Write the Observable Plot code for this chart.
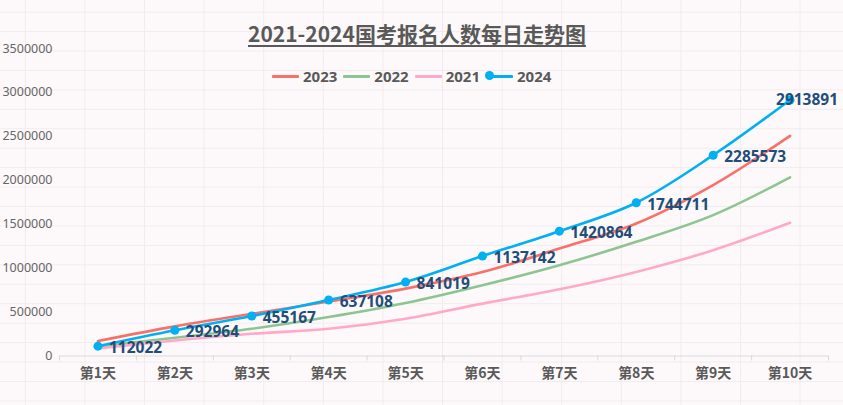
<!DOCTYPE html>
<html>
<head>
<meta charset="utf-8">
<script src="https://cdn.jsdelivr.net/npm/d3@7"></script>
<script src="https://cdn.jsdelivr.net/npm/@observablehq/plot@0.6"></script>
<style>
  html, body { margin: 0; padding: 0; }
  body {
    width: 843px; height: 405px; overflow: hidden;
    background-color: #fdf9fa;
    background-image:
      repeating-linear-gradient(to right, transparent 0, transparent 24.5px, #f1ebed 24.5px, #f1ebed 25.5px, transparent 25.5px, transparent 59.6px),
      repeating-linear-gradient(to bottom, transparent 0, transparent 12px, #f1ebed 12px, #f1ebed 13px, transparent 13px, transparent 19.45px);
    background-size: 59.6px 100%, 100% 19.45px;
    background-position: 0 0, 0 0;
    font-family: "Noto Sans", "Noto Sans CJK SC", sans-serif;
  }
  #wrap { position: relative; width: 843px; height: 405px; }
  #title {
    position: absolute; left: 248px; top: 19px; width: 326px;
    text-align: center; white-space: nowrap;
    font-family: "Noto Sans CJK SC", "Noto Sans", sans-serif;
    font-size: 21px; font-weight: bold; color: #595959;
    text-decoration: underline; text-underline-offset: 3px; line-height: 28px;
  }
  #legend {
    position: absolute; left: 272px; top: 66px; display: flex; align-items: center;
    font-family: "Noto Sans", sans-serif; font-size: 15px; font-weight: bold; color: #595959;
  }
  .item { display: flex; align-items: center; margin-right: 6px; }
  .sw { position: relative; width: 27px; height: 3px; margin-right: 4px; border-radius: 1px; }
  .dot { position: absolute; top: -3.5px; width: 9px; height: 9px; border-radius: 50%; }
  svg { position: absolute; left: 0; top: 0; }
</style>
</head>
<body>
<div id="wrap">
  <div id="title">2021-2024国考报名人数每日走势图</div>
  <div id="legend"></div>
</div>
<script>
const days = ["第1天","第2天","第3天","第4天","第5天","第6天","第7天","第8天","第9天","第10天"];
const seriesNames = ["2023","2022","2021","2024"];
const colors = ["#f7716b","#8cc592","#ffa9c9","#00b0f0"];
const v2024 = [112022, 292964, 455167, 637108, 841019, 1137142, 1420864, 1744711, 2285573, 2913891];
const v2023 = [170000, 337000, 480000, 620000, 767000, 955000, 1223000, 1509000, 1946000, 2506000];
const v2022 = [105000, 208000, 310000, 443000, 603000, 805000, 1033000, 1300000, 1604000, 2034000];
const v2021 = [85000, 177000, 253000, 310000, 425000, 596000, 759000, 957000, 1204000, 1516000];
const yTicks = [0, 500000, 1000000, 1500000, 2000000, 2500000, 3000000, 3500000];

const valuesBySeries = {"2023": v2023, "2022": v2022, "2021": v2021, "2024": v2024};
const rows = seriesNames.flatMap(s => days.map((d, i) => ({series: s, day: d, value: valuesBySeries[s][i]})));
const rows2024 = rows.filter(r => r.series === "2024");
const colorOf = Object.fromEntries(seriesNames.map((s, i) => [s, colors[i]]));

// legend
const legend = document.getElementById("legend");
seriesNames.forEach((s, i) => {
  const it = document.createElement("div");
  it.className = "item";
  const sw = document.createElement("div");
  sw.className = "sw";
  sw.style.background = colors[i];
  if (s === "2024") {
    const dot = document.createElement("div");
    dot.className = "dot"; dot.style.background = colors[i]; dot.style.left = "-1px";
    sw.appendChild(dot);
  }
  it.appendChild(sw);
  const t = document.createElement("span");
  t.textContent = s;
  it.appendChild(t);
  legend.appendChild(it);
});

const W = 843, H = 405, mL = 59, mR = 15, mT = 48, mB = 49.5;
const bw = (W - mL - mR) / days.length;
const fh = H - mT - mB;

const plot = Plot.plot({
  width: W, height: H,
  marginLeft: mL, marginRight: mR, marginTop: mT, marginBottom: mB,
  style: {background: "transparent", fontFamily: "'Noto Sans', 'Noto Sans CJK SC', sans-serif"},
  x: {type: "band", domain: days, padding: 0, round: false, label: null},
  y: {type: "linear", domain: [0, 3500000], label: null},
  marks: [
    Plot.axisY({ticks: yTicks, tickFormat: d3.format("d"), tickSize: 0, tickPadding: 7, fontSize: 12.5, fill: "#666", label: null}),
    Plot.axisX({tickSize: 0, tickPadding: 12, fontSize: 14, fontWeight: "bold", fill: "#595959", label: null, fontFamily: "'Noto Sans CJK SC', sans-serif"}),
    Plot.ruleY([0], {stroke: "#d9d9d9", strokeWidth: 1}),
    Plot.tickX(days, {x: d => d, dx: -bw / 2, insetTop: fh, insetBottom: -5, stroke: "#d9d9d9"}),
    Plot.tickX([days[days.length - 1]], {x: d => d, dx: bw / 2, insetTop: fh, insetBottom: -5, stroke: "#d9d9d9"}),
    Plot.line(rows, {x: "day", y: "value", z: "series", stroke: d => colorOf[d.series], strokeWidth: 2.6, curve: "catmull-rom"}),
    Plot.dot(rows2024, {x: "day", y: "value", r: 4.5, fill: colorOf["2024"]}),
    Plot.text(rows2024.slice(0, -1), {x: "day", y: "value", text: d => String(d.value), textAnchor: "start", dx: 11, dy: 2, fontSize: 15.5, fontWeight: "bold", fill: "#1f4e79"}),
    Plot.text(rows2024.slice(-1), {x: "day", y: "value", text: d => String(d.value), textAnchor: "middle", dx: 17, dy: 0, fontSize: 15.5, fontWeight: "bold", fill: "#1f4e79"})
  ]
});
document.getElementById("wrap").insertBefore(plot, document.getElementById("title"));
</script>
</body>
</html>
